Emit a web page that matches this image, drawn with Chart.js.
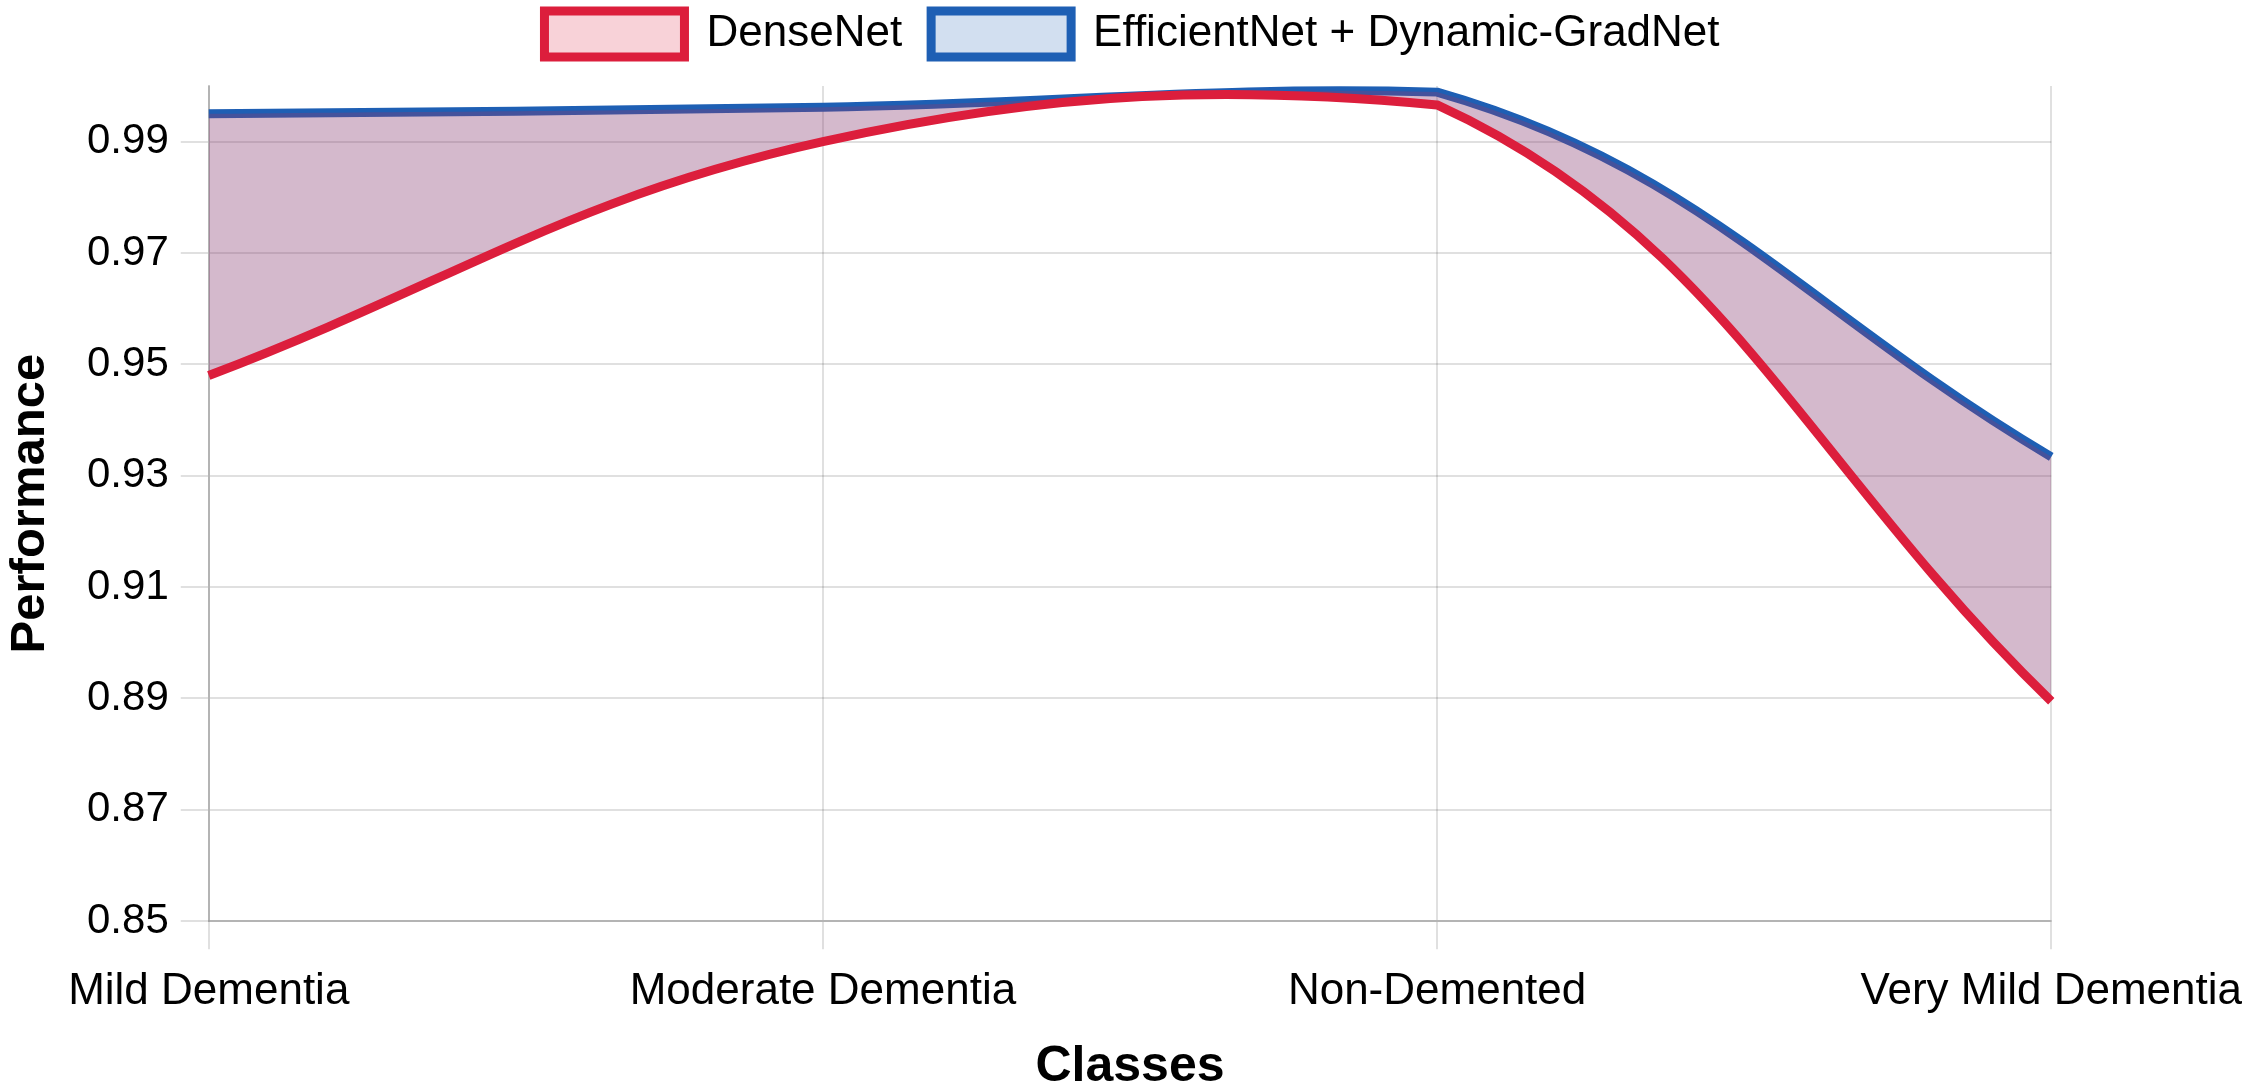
<!DOCTYPE html>
<html>
<head>
<meta charset="utf-8">
<script src="https://cdn.jsdelivr.net/npm/chart.js@4.4.1/dist/chart.umd.min.js"></script>
<style>
  html, body { margin: 0; padding: 0; background: #fff; }
  canvas { display: block; }
</style>
</head>
<body>
<canvas id="myChart" width="2258" height="1087"></canvas>
<script>
'use strict';
const classes = ['Mild Dementia', 'Moderate Dementia', 'Non-Demented', 'Very Mild Dementia'];
const denseNet = [0.948, 0.990, 0.9966, 0.8895];
const efficientGrad = [0.995, 0.9962, 0.9989, 0.9334];
const yTicks = [0.85, 0.87, 0.89, 0.91, 0.93, 0.95, 0.97, 0.99];

Chart.defaults.font.family = '"Liberation Sans", Arial, sans-serif';
Chart.defaults.color = '#000';

// a bit of room between the legend and the plot
const legendGap = {
  id: 'legendGap',
  beforeInit(chart) {
    const fit = chart.legend.fit;
    chart.legend.fit = function () {
      fit.bind(chart.legend)();
      this.height += 19;
    };
  }
};

var ctx = document.getElementById('myChart').getContext('2d');
var myChart = new Chart(ctx, {
  type: 'line',
  data: {
    labels: classes,
    datasets: [{
      label: 'DenseNet',
      data: denseNet,
      borderColor: 'rgb(220, 30, 60)',
      backgroundColor: 'rgba(220, 30, 60, 0.2)',
      borderWidth: 9,
      fill: '+1',
      tension: 0.4,
      pointRadius: 0
    }, {
      label: 'EfficientNet + Dynamic-GradNet',
      data: efficientGrad,
      borderColor: 'rgb(30, 95, 180)',
      backgroundColor: 'rgba(30, 95, 180, 0.2)',
      borderWidth: 9,
      fill: '-1',
      tension: 0.4,
      pointRadius: 0
    }]
  },
  options: {
    responsive: false,
    devicePixelRatio: 1,
    animation: false,
    layout: { padding: { left: 6, right: 0, top: -18, bottom: 0 } },
    plugins: {
      legend: {
        position: 'top',
        labels: {
          boxWidth: 140,
          boxHeight: 46,
          padding: 29,
          font: { size: 44 }
        }
      },
      tooltip: { enabled: false }
    },
    scales: {
      x: {
        grid: { color: 'rgba(0, 0, 0, 0.12)', lineWidth: 2, tickLength: 28 },
        border: { color: 'rgba(0, 0, 0, 0.2)', width: 2 },
        ticks: { font: { size: 44 }, padding: 16, maxRotation: 0 },
        title: { display: true, text: 'Classes', font: { size: 50, weight: 'bold', lineHeight: 0.78 }, padding: { top: 14, bottom: 0 } }
      },
      y: {
        min: 0.85,
        max: 1.0,
        afterBuildTicks: function (scale) {
          scale.ticks = yTicks.map(function (v) { return { value: v }; });
        },
        grid: { color: 'rgba(0, 0, 0, 0.12)', lineWidth: 2, tickLength: 28 },
        border: { color: 'rgba(0, 0, 0, 0.2)', width: 2 },
        ticks: {
          font: { size: 42 },
          padding: 12,
          callback: function (v) { return Number(v).toFixed(2); }
        },
        title: { display: true, text: 'Performance', font: { size: 49, weight: 'bold', lineHeight: 1 }, padding: { top: 0, bottom: 20 } }
      }
    }
  },
  plugins: [legendGap]
});
</script>
</body>
</html>
